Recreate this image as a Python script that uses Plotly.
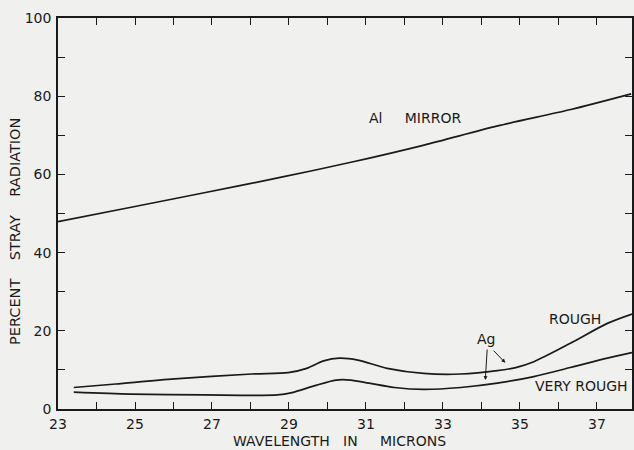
import plotly.graph_objects as go

# --- data ---
al_x = [23.0, 24.9, 26.8, 28.71, 30.61, 32.51, 34.42, 36.32, 37.89]
al_y = [47.9, 51.6, 55.3, 59.1, 63.1, 67.5, 72.4, 76.6, 80.6]

rough_x = [23.41, 24.5, 26.03, 28.03, 28.98, 29.46, 29.9, 30.31, 30.79, 31.55, 32.5, 33.46, 34.41, 34.89, 35.36, 36.31, 37.27, 37.91]
rough_y = [5.5, 6.4, 7.7, 8.95, 9.3, 10.4, 12.3, 13.0, 12.5, 10.4, 9.1, 8.95, 9.8, 10.6, 12.1, 16.8, 21.9, 24.3]

vrough_x = [23.41, 24.89, 26.79, 28.7, 29.08, 29.65, 30.22, 30.6, 31.08, 31.74, 32.5, 33.46, 34.41, 35.36, 36.31, 37.27, 37.91]
vrough_y = [4.3, 3.8, 3.6, 3.6, 4.2, 5.9, 7.4, 7.4, 6.6, 5.5, 5.0, 5.5, 6.6, 8.3, 10.6, 13.0, 14.4]

x_tickvals = list(range(23, 39))
x_ticktext = [str(v) if v % 2 == 1 else "" for v in x_tickvals]
y_tickvals = list(range(0, 101, 10))
y_ticktext = [str(v) if v % 20 == 0 else "" for v in y_tickvals]

INK = "#1a1a1a"
BG = "#f0f0ee"
FONT = "DejaVu Sans"

fig = go.Figure()
for xs, ys in [(al_x, al_y), (rough_x, rough_y), (vrough_x, vrough_y)]:
    fig.add_trace(go.Scatter(x=xs, y=ys, mode="lines",
                             line=dict(color=INK, width=1.7, shape="spline", smoothing=0.8),
                             showlegend=False, hoverinfo="skip"))

nb = "\u00a0"
annotations = [
    dict(x=31.02, y=74.4, text="Al" + nb * 5 + "MIRROR", xanchor="left", yanchor="middle",
         showarrow=False, font=dict(family=FONT, size=14, color=INK)),
    dict(x=36.43, y=23.0, text="ROUGH", xanchor="center", yanchor="middle",
         showarrow=False, font=dict(family=FONT, size=14, color=INK)),
    dict(x=37.85, y=5.9, text="VERY" + nb + "ROUGH", xanchor="right", yanchor="middle",
         showarrow=False, font=dict(family=FONT, size=14, color=INK)),
    dict(x=34.13, y=17.9, text="Ag", xanchor="center", yanchor="middle",
         showarrow=False, font=dict(family=FONT, size=14, color=INK)),
    dict(x=34.10, y=7.4, ax=34.15, ay=15.6, axref="x", ayref="y", text="",
         showarrow=True, arrowhead=2, arrowsize=0.8, arrowwidth=1, arrowcolor=INK),
    dict(x=34.62, y=11.8, ax=34.28, ay=15.3, axref="x", ayref="y", text="",
         showarrow=True, arrowhead=2, arrowsize=0.8, arrowwidth=1, arrowcolor=INK),
    dict(x=0.491, y=-0.082, xref="paper", yref="paper",
         text="WAVELENGTH" + nb * 3 + "IN" + nb * 5 + "MICRONS",
         showarrow=False, xanchor="center", yanchor="middle",
         font=dict(family=FONT, size=14, color=INK)),
    dict(x=-0.0747, y=0.453, xref="paper", yref="paper",
         text="PERCENT" + nb * 4 + "STRAY" + nb * 4 + "RADIATION", textangle=-90,
         showarrow=False, xanchor="center", yanchor="middle",
         font=dict(family=FONT, size=14.5, color=INK)),
]

fig.update_layout(
    width=634, height=450,
    margin=dict(l=58, r=0, t=18, b=41),
    paper_bgcolor=BG, plot_bgcolor=BG,
    annotations=annotations,
    xaxis=dict(range=[23, 37.91], tickmode="array", tickvals=x_tickvals, ticktext=x_ticktext,
               ticks="inside", ticklen=7, tickwidth=1.2, tickcolor=INK,
               showline=True, linecolor=INK, linewidth=1.5, mirror="ticks",
               showgrid=False, zeroline=False, ticklabelstandoff=1,
               tickfont=dict(family=FONT, size=14, color=INK)),
    yaxis=dict(range=[0, 100], tickmode="array", tickvals=y_tickvals, ticktext=y_ticktext,
               ticks="inside", ticklen=7, tickwidth=1.2, tickcolor=INK,
               showline=True, linecolor=INK, linewidth=1.5, mirror="ticks",
               showgrid=False, zeroline=False, ticklabelstandoff=2,
               tickfont=dict(family=FONT, size=14, color=INK)),
)

fig.write_html(
    "out.html",
    config={"displayModeBar": False},
    post_script="document.body.style.margin='0';document.body.style.padding='0';"
                "document.body.style.overflow='hidden';document.body.style.background='" + BG + "';",
)
